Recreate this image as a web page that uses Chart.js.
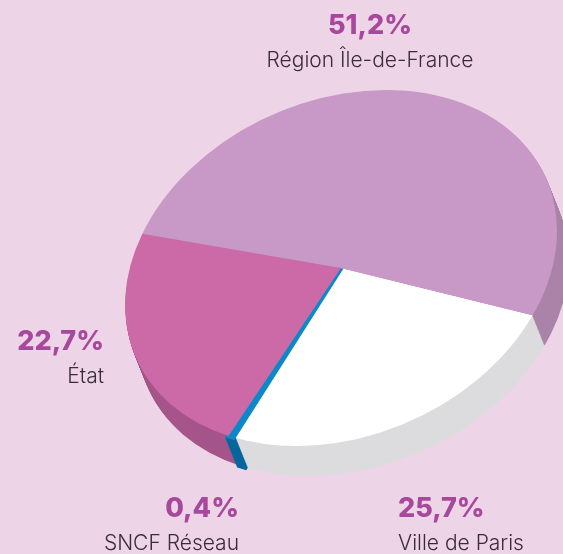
<!DOCTYPE html>
<html>
<head>
<meta charset="utf-8">
<script src="https://cdn.jsdelivr.net/npm/chart.js@4.4.1/dist/chart.umd.min.js"></script>
<style>
    html, body { margin: 0; padding: 0; background: #EDD5E7; }
    canvas { display: block; }
</style>
</head>
<body>
<canvas id="fundingChart" width="563" height="554"></canvas>
<script>
// Data
const funders = ["Ville de Paris", "SNCF Réseau", "État", "Région Île-de-France"];
const shares = [25.7, 0.4, 22.7, 51.2];
const shareLabels = ["25,7%", "0,4%", "22,7%", "51,2%"];

// Colours (top face / extruded side)
const topColors = ["#FFFFFF", "#0B88C9", "#CC6AA8", "#C899C6"];
const sideColors = ["#DCDCDE", "#08669C", "#A5558A", "#AB83A9"];

// Where each label sits on the page
const labelSpots = [
    { x: 398, y: 517, align: "left" },
    { x: 239, y: 517, align: "right" },
    { x: 104, y: 350, align: "right" },
    { x: 370, y: 34, align: "center" },
];

// Ellipse of the tilted top face, and the depth of the side
const tilt = { cx: 341, cy: 268, a: 215, b: -20.4, d: 176.8, depthX: 12, depthY: 30 };

function applyTilt(ctx, arc, dx, dy) {
    const r = arc.outerRadius;
    ctx.setTransform(tilt.a / r, tilt.b / r, tilt.b / r, tilt.d / r, tilt.cx + dx, tilt.cy + dy);
    ctx.translate(-arc.x, -arc.y);
}

const pieTilt = {
    id: "pieTilt",
    beforeDatasetsDraw(chart) {
        const ctx = chart.ctx;
        const arcs = chart.getDatasetMeta(0).data;
        const steps = 36;
        // stack darker copies downwards to fake the side of the cake
        for (let s = steps; s > 0; s--) {
            const t = s / steps;
            arcs.forEach((arc, i) => {
                ctx.save();
                applyTilt(ctx, arc, tilt.depthX * t, tilt.depthY * t);
                ctx.beginPath();
                ctx.moveTo(arc.x, arc.y);
                ctx.arc(arc.x, arc.y, arc.outerRadius, arc.startAngle, arc.endAngle);
                ctx.closePath();
                ctx.fillStyle = sideColors[i];
                ctx.fill();
                if (arc.options.borderWidth > 0) {
                    ctx.lineWidth = arc.options.borderWidth;
                    ctx.strokeStyle = sideColors[i];
                    ctx.stroke();
                }
                ctx.restore();
            });
        }
        ctx.save();
        applyTilt(ctx, arcs[0], 0, 0);
    },
    afterDatasetsDraw(chart) {
        chart.ctx.restore();
    },
};

const pieLabels = {
    id: "pieLabels",
    afterDraw(chart) {
        const ctx = chart.ctx;
        ctx.save();
        ctx.textBaseline = "alphabetic";
        funders.forEach((name, i) => {
            const spot = labelSpots[i];
            ctx.textAlign = spot.align;
            ctx.fillStyle = "#A8489C";
            ctx.font = "800 27px Inter";
            ctx.fillText(shareLabels[i], spot.x, spot.y);
            ctx.fillStyle = "#3B2D38";
            ctx.font = "300 21px Inter";
            ctx.fillText(name, spot.x, spot.y + 33);
        });
        ctx.restore();
    },
};

const ctx = document.getElementById("fundingChart");

new Chart(ctx, {
    type: "pie",
    data: {
        labels: funders,
        datasets: [
            {
                data: shares,
                backgroundColor: topColors,
                borderColor: topColors,
                borderWidth: [0, 7, 0, 0],
                borderJoinStyle: "miter",
                clip: false,
            },
        ],
    },
    options: {
        responsive: false,
        animation: false,
        rotation: 112,
        events: [],
        plugins: {
            legend: { display: false },
            tooltip: { enabled: false },
        },
    },
    plugins: [pieTilt, pieLabels],
});
</script>
</body>
</html>
